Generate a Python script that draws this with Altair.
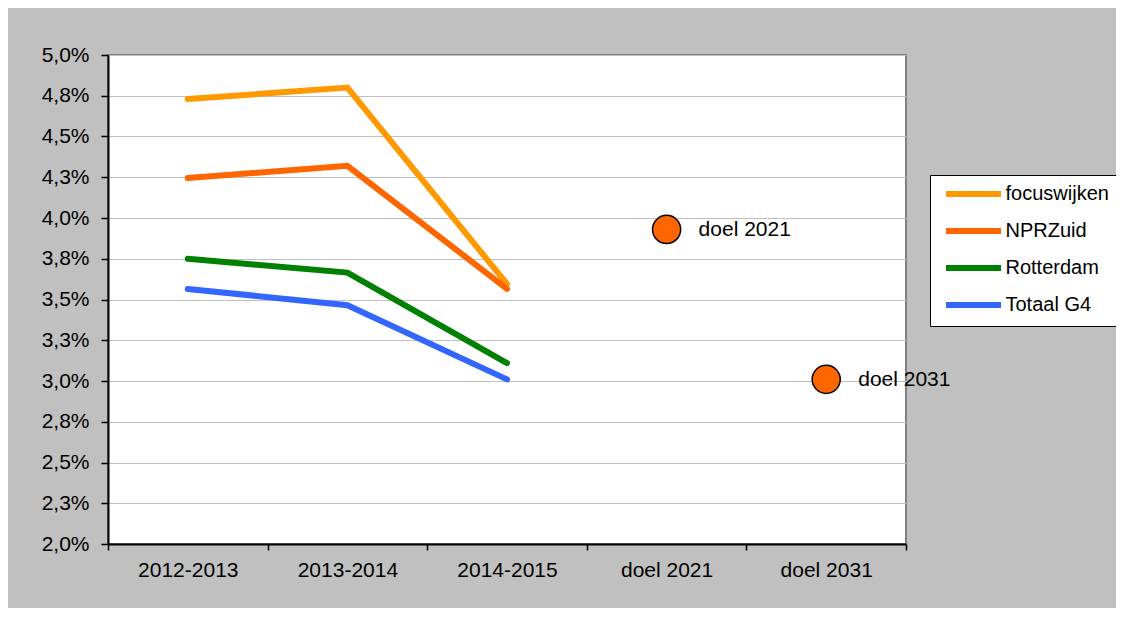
import altair as alt
import pandas as pd

# ---- data ----
categories = ["2012-2013", "2013-2014", "2014-2015", "doel 2021", "doel 2031"]
periods = ["2012-2013", "2013-2014", "2014-2015"]
series_names = ["focuswijken", "NPRZuid", "Rotterdam", "Totaal G4"]
series_colors = ["#FF9900", "#FF6600", "#008000", "#3366FF"]
focuswijken = [4.73, 4.80, 3.595]
nprzuid = [4.245, 4.32, 3.565]
rotterdam = [3.75, 3.665, 3.11]
totaal_g4 = [3.565, 3.465, 3.01]
goal_labels = ["doel 2021", "doel 2031"]
goal_values = [3.93, 3.01]
y_ticks = [2.0, 2.25, 2.5, 2.75, 3.0, 3.25, 3.5, 3.75, 4.0, 4.25, 4.5, 4.75, 5.0]

FONT = "Liberation Sans"

rows = []
for name, vals in zip(series_names, [focuswijken, nprzuid, rotterdam, totaal_g4]):
    for p, v in zip(periods, vals):
        rows.append({"periode": p, "reeks": name, "waarde": v})
lines_df = pd.DataFrame(rows)
goals_df = pd.DataFrame({"periode": goal_labels, "waarde": goal_values, "label": goal_labels})

x_enc = alt.X(
    "periode:N",
    sort=categories,
    scale=alt.Scale(type="band", domain=categories, paddingInner=0, paddingOuter=0),
    axis=alt.Axis(
        title=None, tickBand="extent", grid=False, domainColor="black", domainWidth=2,
        tickColor="black", tickSize=6, tickWidth=1.5, labelFontSize=21, labelFont=FONT,
        labelColor="black", labelPadding=9, labelAngle=0,
    ),
)
y_enc = alt.Y(
    "waarde:Q",
    scale=alt.Scale(domain=[2.0, 5.0], nice=False, zero=False),
    axis=alt.Axis(
        title=None, values=y_ticks,
        labelExpr="replace(format(datum.value, '.1f'), '.', ',') + '%'",
        grid=True, gridColor="#C0C0C0", gridWidth=1.2, domainColor="black", domainWidth=2,
        tickColor="black", tickSize=7, tickWidth=1.5, labelFontSize=21, labelFont=FONT,
        labelColor="black", labelPadding=12,
    ),
)

lines = alt.Chart(lines_df).mark_line(strokeWidth=6, strokeCap="round").encode(
    x=x_enc,
    y=y_enc,
    color=alt.Color(
        "reeks:N",
        sort=series_names,
        scale=alt.Scale(domain=series_names, range=series_colors),
        legend=alt.Legend(
            orient="none", legendX=822, legendY=120, title=None,
            symbolType="M-5,0H5", symbolSize=121, symbolStrokeWidth=6,
            labelFontSize=20, labelFont=FONT, labelColor="black", labelOffset=22,
            symbolOffset=24.5, padding=9, rowPadding=13, labelLimit=0,
            strokeColor="black", fillColor="white",
        ),
    ),
    detail="reeks:N",
)

goals = alt.Chart(goals_df).mark_point(
    filled=True, fill="#FF6600", stroke="black", strokeWidth=1.5, size=790, opacity=1
).encode(x=x_enc, y=y_enc)

goal_text = alt.Chart(goals_df).mark_text(
    align="left", baseline="middle", dx=32, dy=1, fontSize=21, font=FONT, color="black"
).encode(x=x_enc, y=y_enc, text="label:N")

chart = alt.layer(lines, goals, goal_text).properties(
    width=798,
    height=489,
    background="#C0C0C0",
    padding={"left": 100, "top": 47, "right": 210, "bottom": 64},
    autosize=alt.AutoSizeParams(type="none"),
).configure_view(fill="white", stroke="#808080", strokeWidth=2)

chart.save("out.html", embed_options={"renderer": "svg", "actions": False})
